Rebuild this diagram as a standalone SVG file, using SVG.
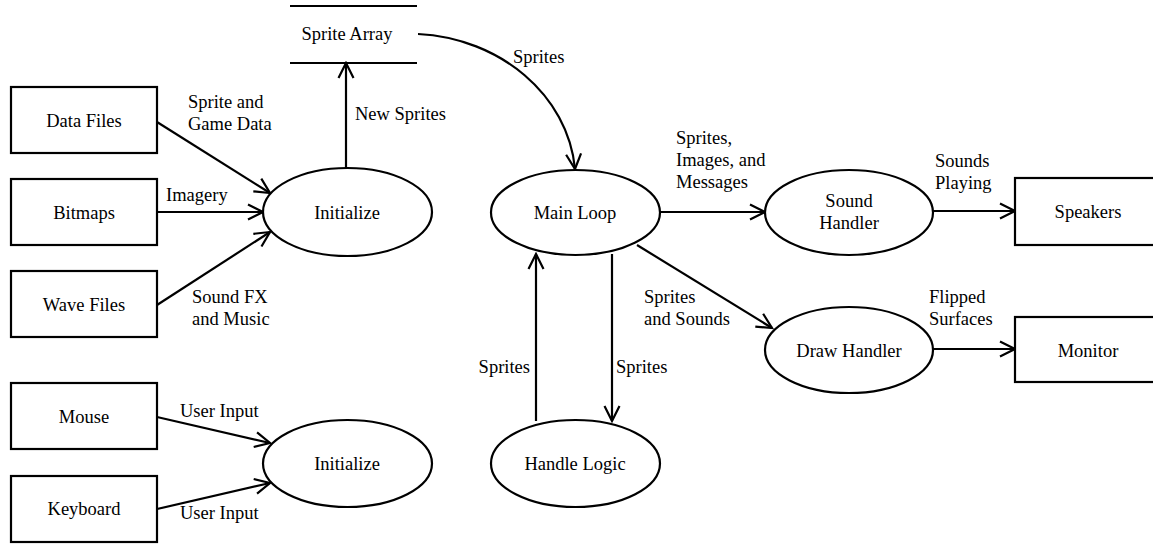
<svg xmlns="http://www.w3.org/2000/svg" width="1153" height="544" viewBox="0 0 1153 544">
<style>
text{font-size:18.5px;fill:#000}
.c{text-anchor:middle}
.box,.ell{fill:#fff;stroke:#000;stroke-width:2.2}
.ln{fill:none;stroke:#000;stroke-width:2.2}
.ar{fill:none;stroke:#000;stroke-width:2.2;marker-end:url(#ah)}
</style>
<defs>
<marker id="ah" markerUnits="userSpaceOnUse" viewBox="-16 -9 18 18" refX="0" refY="0" markerWidth="18" markerHeight="18" orient="auto">
<path d="M-15 -7.5 L0 0 L-15 7.5" fill="none" stroke="#000" stroke-width="2.2"/>
</marker>
</defs>
<rect width="1153" height="544" fill="#fff"/>
<g font-family="'Liberation Serif', 'DejaVu Serif', serif">
<g id="connectors">
<line class="ar" x1="157" y1="122" x2="270" y2="193"/>
<line class="ar" x1="157" y1="212" x2="263" y2="212"/>
<line class="ar" x1="157" y1="305" x2="270" y2="232"/>
<line class="ar" x1="346" y1="168" x2="346" y2="63"/>
<path class="ar" d="M418 34 C500 38 568 95 575 169"/>
<line class="ar" x1="660" y1="212" x2="765" y2="212"/>
<line class="ar" x1="933" y1="211" x2="1015" y2="211"/>
<line class="ar" x1="637" y1="245" x2="772" y2="328"/>
<line class="ar" x1="933" y1="349" x2="1015" y2="349"/>
<line class="ar" x1="536" y1="421" x2="536" y2="254"/>
<line class="ar" x1="612" y1="254" x2="612" y2="421"/>
<line class="ar" x1="157" y1="417" x2="270" y2="443"/>
<line class="ar" x1="157" y1="509" x2="270" y2="483"/>
<text x="188" y="108">Sprite and</text>
<text x="188" y="130">Game Data</text>
<text x="166" y="201">Imagery</text>
<text x="192" y="303">Sound FX</text>
<text x="192" y="325">and Music</text>
<text x="355" y="120">New Sprites</text>
<text x="513" y="63">Sprites</text>
<text x="676" y="144">Sprites,</text>
<text x="676" y="166">Images, and</text>
<text x="676" y="188">Messages</text>
<text x="935" y="167">Sounds</text>
<text x="935" y="189">Playing</text>
<text x="644" y="303">Sprites</text>
<text x="644" y="325">and Sounds</text>
<text x="929" y="303">Flipped</text>
<text x="929" y="325">Surfaces</text>
<text x="530" y="373" text-anchor="end">Sprites</text>
<text x="616" y="373">Sprites</text>
<text x="180" y="417">User Input</text>
<text x="180" y="519">User Input</text>
</g>
<g id="sprite-array">
<line class="ln" x1="290" y1="6" x2="417" y2="6"/>
<line class="ln" x1="290" y1="63" x2="417" y2="63"/>
<text class="c" x="347" y="40">Sprite Array</text>
</g>
<g id="data-files"><rect class="box" x="11" y="87" width="146" height="66"/><text class="c" x="84" y="127">Data Files</text></g>
<g id="bitmaps"><rect class="box" x="11" y="179" width="146" height="66"/><text class="c" x="84" y="219">Bitmaps</text></g>
<g id="wave-files"><rect class="box" x="11" y="271" width="146" height="66"/><text class="c" x="84" y="311">Wave Files</text></g>
<g id="mouse"><rect class="box" x="11" y="383" width="146" height="66"/><text class="c" x="84" y="423">Mouse</text></g>
<g id="keyboard"><rect class="box" x="11" y="476" width="146" height="66"/><text class="c" x="84" y="515">Keyboard</text></g>
<g id="initialize-1"><ellipse class="ell" cx="347.5" cy="212" rx="84.5" ry="44"/><text class="c" x="347" y="219">Initialize</text></g>
<g id="initialize-2"><ellipse class="ell" cx="347.5" cy="463.5" rx="84.5" ry="43.5"/><text class="c" x="347" y="470">Initialize</text></g>
<g id="main-loop"><ellipse class="ell" cx="575.5" cy="212.5" rx="84.5" ry="42.5"/><text class="c" x="575" y="219">Main Loop</text></g>
<g id="handle-logic"><ellipse class="ell" cx="575.5" cy="463.5" rx="84.5" ry="43.5"/><text class="c" x="575" y="470">Handle Logic</text></g>
<g id="sound-handler"><ellipse class="ell" cx="849" cy="212.5" rx="84" ry="42.5"/><text class="c" x="849" y="207">Sound</text><text class="c" x="849" y="229">Handler</text></g>
<g id="draw-handler"><ellipse class="ell" cx="849" cy="350" rx="84" ry="43"/><text class="c" x="849" y="357">Draw Handler</text></g>
<g id="speakers"><rect class="box" x="1015" y="178" width="150" height="67"/><text class="c" x="1088" y="218">Speakers</text></g>
<g id="monitor"><rect class="box" x="1015" y="317" width="150" height="65"/><text class="c" x="1088" y="357">Monitor</text></g>
</g>
</svg>
